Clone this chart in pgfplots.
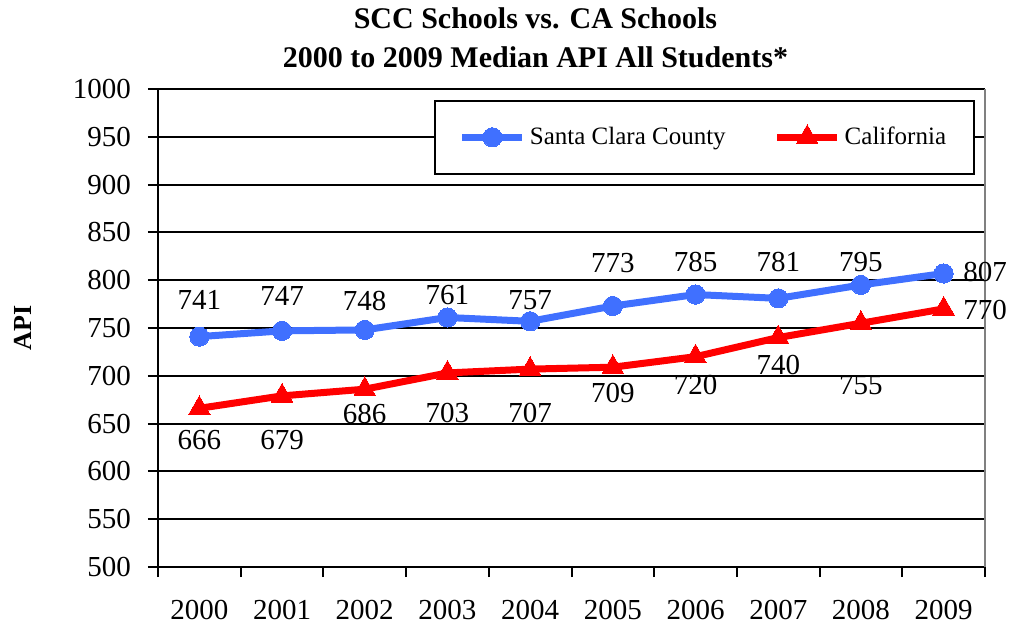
\documentclass[border=0pt]{standalone}
\usepackage{pgfplots}
\pgfplotsset{compat=1.18}
\usepackage{fontspec}
\setmainfont{Liberation Serif}
\definecolor{sccblue}{RGB}{64,112,255}
\definecolor{cared}{RGB}{255,0,0}
\begin{document}
\begin{tikzpicture}
\begin{axis}[
  name=ax,
  scale only axis,
  width=413.5pt, height=239pt,
  xmin=-0.5, xmax=9.5,
  ymin=500, ymax=1000,
  clip=false,
  axis x line*=bottom,
  axis y line*=left,
  axis line style={line width=1pt, black},
  xtick={-0.5,0.5,...,9.5},
  xticklabels={},
  extra x ticks={0,...,9},
  extra x tick labels={2000,2001,2002,2003,2004,2005,2006,2007,2008,2009},
  extra x tick style={major tick length=0pt, grid=none, xticklabel style={yshift=-13pt}},
  ytick={500,550,...,1000},
  ytick pos=left,
  xtick pos=bottom,
  tick align=outside,
  major tick length=5pt,
  tick style={line width=1pt, black},
  ymajorgrids,
  major grid style={line width=1pt, black},
  /pgf/number format/assume math mode=true,
  /pgf/number format/set thousands separator={},
  ticklabel style={font=\fontsize{14.5}{16}\selectfont},
  yticklabel style={xshift=-5pt},
  ylabel={\bfseries API},
  ylabel style={at={(axis description cs:-0.163,0.5)}, anchor=center, font=\fontsize{13}{15}\selectfont},
  title={\bfseries SCC Schools vs. CA Schools\\\bfseries 2000 to 2009 Median API All Students*},
  title style={align=center, at={(axis description cs:0.5,1)}, anchor=south, xshift=-18pt, yshift=1pt, font=\fontsize{15}{19.5}\selectfont},
  legend style={at={(rel axis cs:0.988,0.977)}, anchor=north east, draw=black, line width=1pt, fill=white,
    inner xsep=12pt, inner ysep=11pt, legend columns=2,
    font=\fontsize{12.5}{14}\selectfont,
    /tikz/every even column/.append style={column sep=22pt}},
  legend image code/.code={\draw[mark repeat=2, mark phase=2] plot coordinates {(0pt,0pt) (15pt,0pt) (30pt,0pt)};},
  every node near coord/.append style={anchor=center, font=\fontsize{14.5}{16}\selectfont, text=black},
]
\addplot[color=sccblue, line width=3.5pt, mark=*, mark size=4.8pt, mark options={solid, fill=sccblue, line width=0pt}]
  coordinates {(0,741) (1,747) (2,748) (3,761) (4,757) (5,773) (6,785) (7,781) (8,795) (9,807)};
\addlegendentry{Santa Clara County}
\addplot[color=cared, line width=3.5pt, mark=triangle*, mark size=6.2pt, mark options={solid, fill=cared, line width=0pt}]
  coordinates {(0,666) (1,679) (2,686) (3,703) (4,707) (5,709) (6,720) (7,740) (8,755) (9,770)};
\addlegendentry{California}
% data labels
\addplot[draw=none, forget plot, nodes near coords, point meta=explicit symbolic]
  coordinates {(0,779.3)[741] (1,783.5)[747] (2,778.2)[748] (3,784.5)[761] (4,779.3)[757]
               (5,818)[773] (6,819)[785] (7,819)[781] (8,819)[795] (9.5,808.6)[807]};
\addplot[draw=none, forget plot, nodes near coords, point meta=explicit symbolic]
  coordinates {(0,632.9)[666] (1,632.9)[679] (2,660)[686] (3,661)[703] (4,661)[707]
               (5,682.1)[709] (6,690.4)[720] (7,711.3)[740] (8,690.4)[755] (9.5,768.8)[770]};
\draw[line width=1pt, gray] (rel axis cs:1,0) -- (rel axis cs:1,1);
\coordinate (BL) at (rel axis cs:0,0);
\coordinate (TR) at (rel axis cs:1,1);
\end{axis}
\pgfresetboundingbox
\path[use as bounding box] ([xshift=-79pt,yshift=-30pt]BL) rectangle ([xshift=13pt,yshift=44.5pt]TR);
\end{tikzpicture}
\end{document}
